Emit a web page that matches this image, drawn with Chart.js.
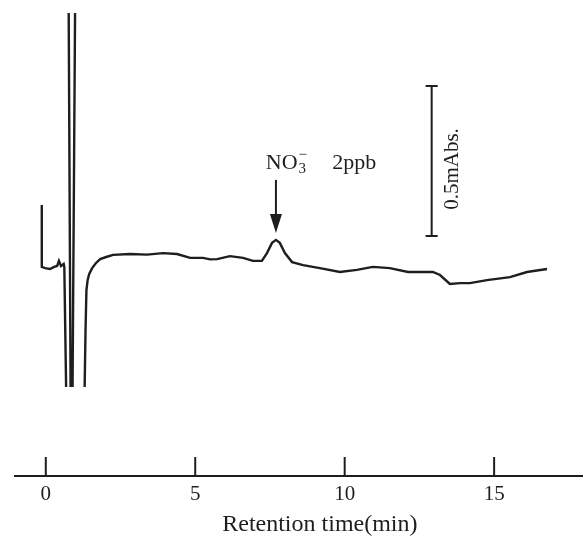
<!DOCTYPE html>
<html>
<head>
<meta charset="utf-8">
<script src="https://cdn.jsdelivr.net/npm/chart.js@4.4.0/dist/chart.umd.min.js"></script>
<style>
  body { margin: 0; background: #fff; }
  #wrap { width: 585px; height: 542px; }
</style>
</head>
<body>
<div id="wrap"><canvas id="chart"></canvas></div>
<script>
// chromatogram trace (min, mAbs above the axis line)
// null breaks the pen trace where it runs off the bottom of the paper
const retentionTime = [
  -0.134, -0.134, -0.02, 0.14, 0.28, 0.38, 0.44, 0.51, 0.60, 0.62,
  0.68, 0.75, 0.83, 0.743, 1.01, 0.896, 1.10, 1.30, 1.33, 1.36,
  1.40, 1.45, 1.55, 1.68, 1.82, 2.02, 2.25, 2.82, 3.39, 3.92,
  4.39, 4.83, 5.26, 5.50, 5.73, 6.16, 6.60, 6.93, 7.23, 7.40,
  7.57, 7.70, 7.83, 8.00, 8.24, 8.61, 9.17, 9.84, 10.41, 10.94,
  11.51, 12.12, 12.95, 13.19, 13.52, 13.86, 14.19, 14.76, 15.53, 16.10,
  16.77
];
const absorbance = [
  0.903, 0.697, 0.693, 0.690, 0.697, 0.700, 0.717, 0.700, 0.707, 0.697,
  0.297, null, 0.297, 2.0, 2.0, 0.297, null, 0.297, 0.487, 0.620,
  0.653, 0.673, 0.693, 0.710, 0.723, 0.730, 0.737, 0.740, 0.738, 0.743,
  0.740, 0.727, 0.727, 0.722, 0.723, 0.733, 0.727, 0.717, 0.717, 0.743,
  0.777, 0.787, 0.777, 0.743, 0.713, 0.703, 0.693, 0.680, 0.687, 0.697,
  0.693, 0.680, 0.680, 0.670, 0.640, 0.643, 0.643, 0.653, 0.663, 0.680,
  0.690
];
const tickValues = [0, 5, 10, 15];
const axisTitle = 'Retention time(min)';
const axisTitleTime = 9.17;

// annotation values
const peakTime = 7.70;          // NO3- arrow
const arrowFrom = 0.987;
const arrowTo = 0.81;
const labelTime = 7.36;
const labelLevel = 1.043;
const concTime = 9.58;
const scaleBarTime = 12.91;
const scaleBarLow = 0.80;
const scaleBarHigh = 1.30;      // 0.5 mAbs
const scaleTextTime = 13.62;

const ink = '#1e1e1e';
const serif = '"Liberation Serif", "DejaVu Serif", serif';

const annotations = {
  id: 'annotations',
  afterDraw(chart) {
    const ctx = chart.ctx;
    const x = chart.scales.x;
    const y = chart.scales.y;
    ctx.save();
    ctx.strokeStyle = ink;
    ctx.fillStyle = ink;
    ctx.lineWidth = 2;

    // upward tick marks on the time axis
    tickValues.forEach(v => {
      const px = x.getPixelForValue(v);
      ctx.beginPath();
      ctx.moveTo(px, y.bottom);
      ctx.lineTo(px, y.bottom - 19);
      ctx.stroke();
    });

    // axis title, sits right of centre in the original
    ctx.font = '24px ' + serif;
    ctx.textAlign = 'center';
    ctx.textBaseline = 'middle';
    ctx.fillText(axisTitle, x.getPixelForValue(axisTitleTime), 525);

    // arrow to the nitrate peak
    const ax = x.getPixelForValue(peakTime);
    const ay0 = y.getPixelForValue(arrowFrom);
    const ay1 = y.getPixelForValue(arrowTo);
    ctx.beginPath();
    ctx.moveTo(ax, ay0);
    ctx.lineTo(ax, ay1 - 12);
    ctx.stroke();
    ctx.beginPath();
    ctx.moveTo(ax, ay1);
    ctx.lineTo(ax - 6, ay1 - 19);
    ctx.lineTo(ax + 6, ay1 - 19);
    ctx.closePath();
    ctx.fill();

    // NO3- 2ppb
    const lx = x.getPixelForValue(labelTime);
    const ly = y.getPixelForValue(labelLevel);
    ctx.textAlign = 'left';
    ctx.font = '22px ' + serif;
    ctx.fillText('NO', lx, ly);
    const w = ctx.measureText('NO').width;
    ctx.font = '15px ' + serif;
    ctx.fillText('3', lx + w + 1, ly + 6);
    ctx.fillText('\u2212', lx + w + 1, ly - 8);
    ctx.font = '22px ' + serif;
    ctx.fillText('2ppb', x.getPixelForValue(concTime), ly);

    // scale bar
    const sx = x.getPixelForValue(scaleBarTime);
    const sy0 = y.getPixelForValue(scaleBarLow);
    const sy1 = y.getPixelForValue(scaleBarHigh);
    ctx.beginPath();
    ctx.moveTo(sx, sy0);
    ctx.lineTo(sx, sy1);
    ctx.moveTo(sx - 6, sy0);
    ctx.lineTo(sx + 6, sy0);
    ctx.moveTo(sx - 6, sy1);
    ctx.lineTo(sx + 6, sy1);
    ctx.stroke();

    ctx.translate(x.getPixelForValue(scaleTextTime), (sy0 + sy1) / 2 + 8);
    ctx.rotate(-Math.PI / 2);
    ctx.textAlign = 'center';
    ctx.font = '21px ' + serif;
    ctx.fillText('0.5mAbs.', 0, 0);
    ctx.restore();
  }
};

new Chart(document.getElementById('chart'), {
  type: 'line',
  data: {
    datasets: [{
      data: retentionTime.map((t, i) => ({ x: t, y: absorbance[i] })),
      borderColor: ink,
      borderWidth: 2.4,
      pointRadius: 0,
      tension: 0,
      spanGaps: false,
      fill: false
    }]
  },
  options: {
    responsive: true,
    maintainAspectRatio: false,
    animation: false,
    layout: { padding: { left: 15, right: 3, top: 13, bottom: 0 } },
    plugins: {
      legend: { display: false },
      tooltip: { enabled: false }
    },
    scales: {
      x: {
        type: 'linear',
        min: -1.03,
        max: 17.94,
        afterBuildTicks: s => { s.ticks = tickValues.map(v => ({ value: v })); },
        afterFit: s => { s.height = 66; },
        grid: { display: true, drawOnChartArea: false, drawTicks: false },
        border: { display: true, color: ink, width: 2 },
        ticks: { color: ink, font: { family: serif, size: 21 }, padding: 6, maxRotation: 0 }
      },
      y: { display: false, min: 0, max: 1.5433 }
    }
  },
  plugins: [annotations]
});
</script>
</body>
</html>
